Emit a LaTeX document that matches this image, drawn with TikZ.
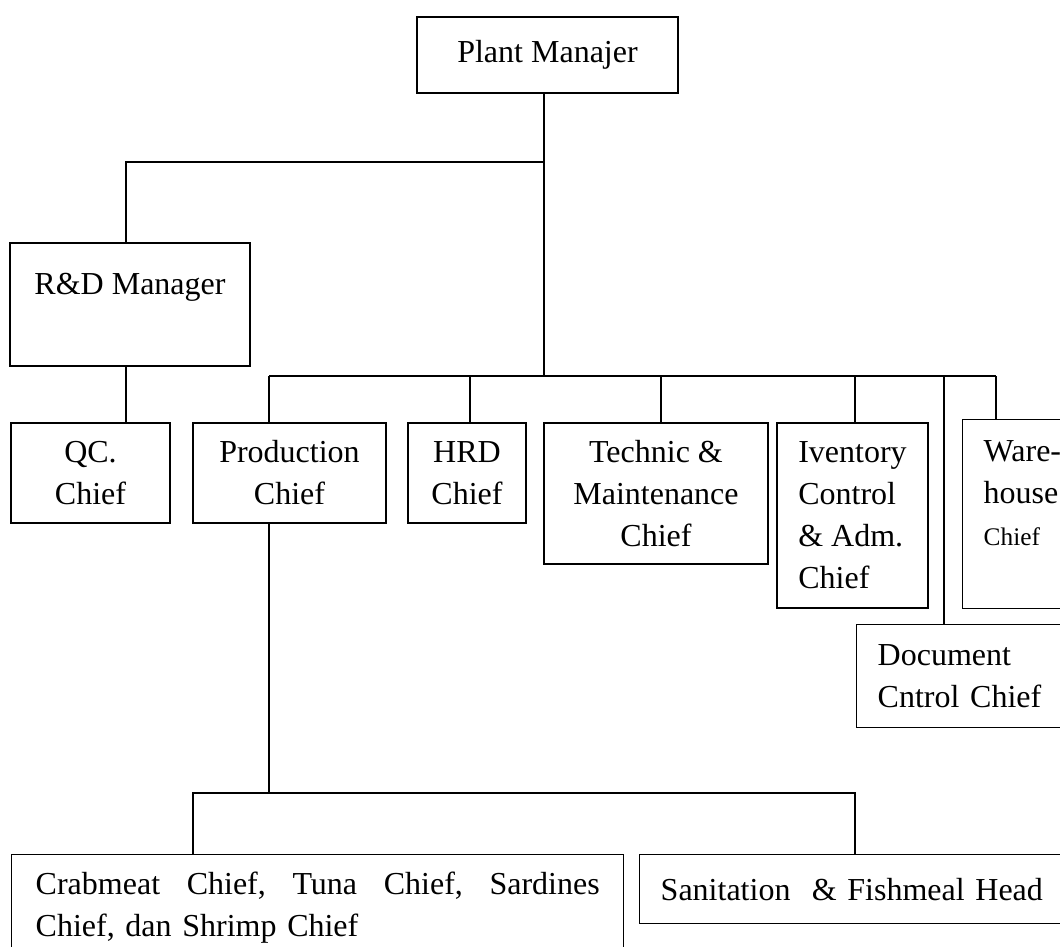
\documentclass[tikz,border=0pt]{standalone}
\usepackage{fontspec}
\setmainfont{Liberation Serif}
\begin{document}
\begin{tikzpicture}[x=0.75pt, y=-0.75pt, line width=1.1pt,
  font={\fontsize{24}{31.5}\selectfont},
  post/.style={draw, line width=1.1pt, align=center, inner sep=0pt}]

  \useasboundingbox (0,0) rectangle (1060,946);

  \node[post, minimum width=195.75pt, minimum height=57pt] (plant) at (547.5,55) {Plant Manajer};

  \node[post, minimum width=180pt, minimum height=92.25pt] (rd) at (130,304.5) {R\&D Manager\\\mbox{}};

  \node[post, minimum width=119.25pt, minimum height=75pt] (qc) at (90.5,473) {QC.\\Chief};
  \node[post, minimum width=144.75pt, minimum height=75pt] (prod) at (289.5,473) {Production\\Chief};
  \node[post, minimum width=88.5pt, minimum height=75pt] (hrd) at (467,473) {HRD\\Chief};
  \node[post, minimum width=168pt, minimum height=105.75pt] (tech) at (656,493.5) {Technic \&\\Maintenance\\Chief};
  \node[post, align=left, minimum width=113.25pt, minimum height=138.75pt] (inv) at (852.5,515.5) {Iventory\\Control\\\& Adm.\\Chief};
  \node[post, align=left, anchor=north west, text width=75pt, inner xsep=15.75pt, minimum height=141.75pt] (ware) at (962,419) {Ware-\\house\\{\fontsize{19}{24}\selectfont Chief}\\\mbox{}};
  \node[post, align=left, anchor=north west, text width=127.5pt, inner xsep=15.75pt, minimum height=77.25pt] (doc) at (856,624) {Document\\Cntrol Chief};

  \node[post, align=left, anchor=north west, text width=423pt, inner xsep=18pt, inner ysep=12.75pt] (crab) at (11,854) {\makebox[423pt][s]{Crabmeat\hfill Chief,\hfill Tuna\hfill Chief,\hfill Sardines}\\Chief, dan Shrimp Chief};
  \node[post, align=left, anchor=north west, text width=300pt, inner xsep=15.75pt, minimum height=51.75pt] (san) at (639,854) {Sanitation~ \& Fishmeal Head};

  \coordinate (pmid) at (544,162);
  \coordinate (rdx) at (126,162);
  \coordinate (pbus) at (544,376);

  \draw[] (pmid |- plant.south) -- (pbus);
  \draw[] (pmid) -- (rdx) -- (rdx |- rd.north);
  \draw[] (rdx |- rd.south) -- (rdx |- qc.north);

  \coordinate (cprod) at (269,376);
  \coordinate (chrd) at (470,376);
  \coordinate (ctech) at (661,376);
  \coordinate (cinv) at (855,376);
  \coordinate (cdoc) at (944,376);
  \coordinate (cware) at (996,376);

  \draw[] (cprod) -- (cware);
  \foreach \c/\n in {cprod/prod, chrd/hrd, ctech/tech, cinv/inv, cdoc/doc, cware/ware}
    \draw[] (\c) -- (\c |- \n.north);

  \coordinate (pdown) at (269,793);
  \coordinate (lcrab) at (193,793);
  \coordinate (lsan) at (855,793);

  \draw[] (pdown |- prod.south) -- (pdown);
  \draw[] (lcrab |- crab.north) -- (lcrab) -- (lsan) -- (lsan |- san.north);

\end{tikzpicture}
\end{document}
